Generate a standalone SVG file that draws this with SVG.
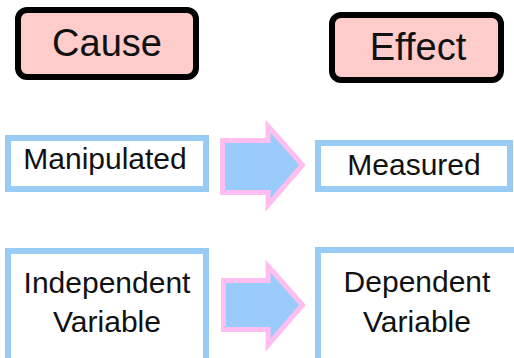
<svg xmlns="http://www.w3.org/2000/svg" width="514" height="358" viewBox="0 0 514 358">
<style>
.hdr{fill:#ffcccc;stroke:#000;stroke-width:6}
.box{fill:#fff;stroke:#99ccf5;stroke-width:6}
.arr{fill:#99ccfa;stroke:#ffbdf0;stroke-width:5;stroke-linejoin:miter}
text{font-family:"Liberation Sans",Arial,sans-serif;fill:#111;text-anchor:middle}
.h{font-size:38px}
.t{font-size:30px}
</style>
<rect width="514" height="358" fill="#fff"/>
<g id="cause"><rect class="hdr" x="18" y="10" width="178" height="67" rx="9"/><text class="h" x="107" y="56">Cause</text></g>
<g id="effect"><rect class="hdr" x="332" y="15" width="169" height="65" rx="9"/><text class="h" x="418" y="60">Effect</text></g>
<g id="manipulated"><rect class="box" x="8" y="138" width="198" height="51"/><text class="t" x="105" y="169">Manipulated</text></g>
<g id="measured"><rect class="box" x="318" y="143" width="192" height="46"/><text class="t" x="414" y="175">Measured</text></g>
<g id="independent"><rect class="box" x="8" y="251" width="198" height="112"/><text class="t" x="107" y="293">Independent</text><text class="t" x="107" y="332">Variable</text></g>
<g id="dependent"><rect class="box" x="318" y="250" width="199" height="113"/><text class="t" x="417" y="292">Dependent</text><text class="t" x="417" y="332">Variable</text></g>
<g id="connectors">
<polygon class="arr" points="222.5,140.5 268,140.5 268,126 302.5,165 268,205 268,192.5 222.5,192.5"/>
<polygon class="arr" points="223.5,280.5 268,280.5 268,266 302.5,305 268,345 268,329.5 223.5,329.5"/>
</g>
</svg>
